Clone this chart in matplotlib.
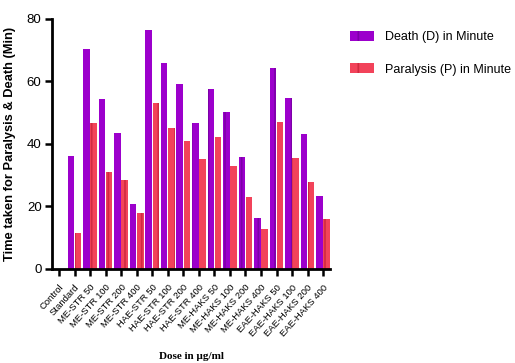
import numpy as np
import matplotlib.pyplot as plt

groups = ['Control', 'Standard', 'ME-STR 50', 'ME-STR 100', 'ME-STR 200', 'ME-STR 400',
          'HAE-STR 50', 'HAE-STR 100', 'HAE-STR 200', 'HAE-STR 400',
          'ME-HAKS 50', 'ME-HAKS 100', 'ME-HAKS 200', 'ME-HAKS 400',
          'EAE-HAKS 50', 'EAE-HAKS 100', 'EAE-HAKS 200', 'EAE-HAKS 400']
death = [0, 36, 70.4, 54.4, 43.5, 20.8, 76.5, 66, 59.2, 46.7,
         57.6, 50.2, 35.8, 16.3, 64.3, 54.8, 43.3, 23.4]
paralysis = [0, 11.5, 46.7, 31, 28.5, 17.9, 53, 45, 40.8, 35.2,
             42.1, 33, 23, 12.8, 47, 35.4, 27.9, 16]

plt.rcParams['font.family'] = ['Liberation Sans', 'DejaVu Sans']
plt.rcParams['hatch.linewidth'] = 1.2

fig = plt.figure(figsize=(5.15, 3.63), dpi=100)
ax = fig.add_axes([0.101, 0.259, 0.54, 0.689])

x = np.arange(len(groups))
w = 0.42
plt.rcParams['hatch.color'] = '#6a0090'
b1 = ax.bar(x - 0.23, death, w, color='#9c00cc', hatch='|', edgecolor='#7d00a8',
            linewidth=0, label='Death (D) in Minute')
plt.rcParams['hatch.color'] = '#c8283c'
b2 = ax.bar(x + 0.23, paralysis, w, color='#f2435a', hatch='|', edgecolor='#d02a40',
            linewidth=0, label='Paralysis (P) in Minute')

ax.set_xlim(-0.45, 17.45)
ax.set_ylim(0, 80)
ax.set_yticks([0, 20, 40, 60, 80])
ax.set_xticks(x)
ax.set_xticklabels(groups, rotation=48, ha='right', rotation_mode='anchor', fontsize=6.8)
ax.tick_params(axis='y', labelsize=9.5, width=1.8, length=5, pad=2.5)
ax.tick_params(axis='x', width=1.8, length=5, pad=5)
for s in ['top', 'right']:
    ax.spines[s].set_visible(False)
for s in ['left', 'bottom']:
    ax.spines[s].set_linewidth(2)

ax.set_ylabel('Time taken for Paralysis & Death (Min)', fontsize=9.3, fontweight='bold',
              labelpad=8)
ax.set_xlabel('Dose in µg/ml', fontsize=8, fontweight='bold', family='Liberation Serif',
              labelpad=10)

fig.legend(handles=[b1, b2], loc='upper left', bbox_to_anchor=(0.67, 0.928), frameon=False,
           fontsize=9, handlelength=1.9, handleheight=0.85, labelspacing=1.6,
           handletextpad=0.9, borderaxespad=0)

fig.savefig('out.png', dpi=100)
